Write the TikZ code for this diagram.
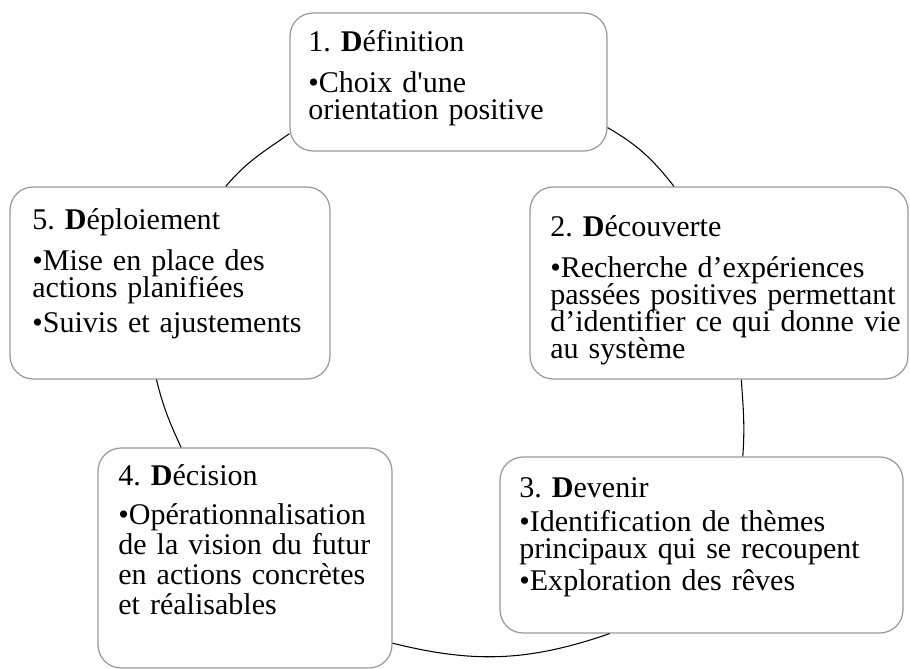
\documentclass[tikz,border=0pt]{standalone}
\usepackage{fontspec}
\setmainfont{Liberation Serif}[Ligatures={CommonOff,TeXOff}]
\frenchspacing

% puce avec retrait suspendu
\newcommand{\puce}[1][4.5pt]{\par\vspace{#1}\setbox0=\hbox{\textbullet}%
  \hangindent=\wd0 \hangafter=1 \noindent\box0 }

\begin{document}
\begin{tikzpicture}[x=0.02cm,y=0.02cm,
    etape/.style={draw=black!40,line width=0.7pt,fill=white,rounded corners=0.46cm},
    texte/.style={anchor=base west,text width=8cm,align=left,inner sep=0pt,
      font={\fontsize{17.1}{15.4}\selectfont\lineskiplimit=-20pt}},
    lien/.style={line width=0.6pt}]
  \useasboundingbox (0,0) rectangle (910,669);

  % les cinq etapes
  \node[etape,minimum width=6.34cm,minimum height=2.76cm] (d1) at (448.5,587) {};
  \node[etape,minimum width=7.56cm,minimum height=3.84cm] (d2) at (719,386) {};
  \node[etape,minimum width=8.06cm,minimum height=3.52cm] (d3) at (701.5,124) {};
  \node[etape,minimum width=5.88cm,minimum height=4.40cm] (d4) at (245,111) {};
  \node[etape,minimum width=6.40cm,minimum height=3.84cm] (d5) at (170,386) {};

  \node[texte] (t1) at (308,617) {1. \textbf{D}éfinition\puce[7.4pt]Choix d'une\\orientation positive};
  \node[texte] (t2) at (550,432) {2. \textbf{D}écouverte\puce[7.4pt]Recherche d’expériences\\passées positives permettant\\d’identifier ce qui donne vie\\au système};
  \node[texte] (t3) at (519,171)
    {3. \textbf{D}evenir\puce[3.4pt]Identification de thèmes\\principaux qui se recoupent\puce[2.8pt]Exploration des rêves};
  \node[texte,font={\fontsize{17.1}{17.2}\selectfont\lineskiplimit=-20pt}] (t4) at (118,183)
    {4. \textbf{D}écision\puce[4.5pt]Opérationnalisation\\de la vision du futur\\en actions concrètes\\et réalisables};
  \node[texte] (t5) at (32,439) {5. \textbf{D}éploiement\puce[7.4pt]Mise en place des\\actions planifiées\puce Suivis et ajustements};

  % le cycle
  \draw[lien] (d1.-16.5) to[out=-30,in=128] (d2.115.6);
  \draw[lien] (d2.-77.7) to[out=-86,in=86] (d3.65.3);
  \draw[lien] (d3.-136.7) to[out=-161,in=-14] (d4.-30.4);
  \draw[lien] (d4.120.4) to[out=115,in=-76] (d5.-98.2);
  \draw[lien] (d5.60.8) to[out=50,in=215] (d1.-162.5);
\end{tikzpicture}
\end{document}
